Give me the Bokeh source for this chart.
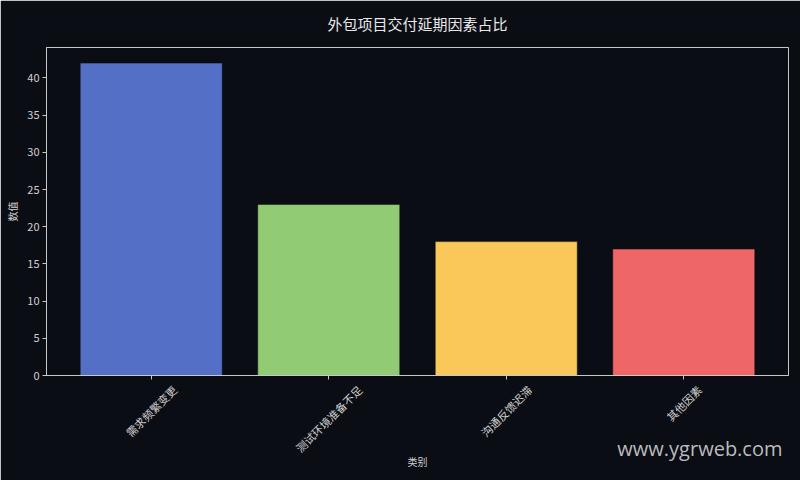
import math
from bokeh.plotting import figure
from bokeh.models import Range1d, FixedTicker, LinearAxis, Title, ColumnDataSource
from bokeh.embed import file_html
from bokeh.resources import INLINE

categories = ["需求频繁变更", "测试环境准备不足", "沟通反馈迟滞", "其他因素"]
values = [42, 23, 18, 17]
colors = ["#5470c6", "#91cc75", "#fac858", "#ee6666"]
y_ticks = [0, 5, 10, 15, 20, 25, 30, 35, 40]
title_text = "外包项目交付延期因素占比"
x_label = "类别"
y_label = "数值"
watermark = "www.ygrweb.com"

BG = "#0b0d14"
FG = "#d0d0d0"
AX = "#c8c8c8"
FONT = "Noto Sans CJK SC"
LABEL_PX = 11
FRAME_W = 742

xs = list(range(len(categories)))
src = ColumnDataSource(dict(x=xs, top=values, color=colors))

x_range = Range1d(-0.59, len(categories) - 1 + 0.59)
p = figure(width=800, height=480, output_backend="svg", toolbar_location=None,
           x_range=x_range, y_range=Range1d(0, max(values) * 1.05),
           min_border_left=46, min_border_right=12, min_border_top=46, min_border_bottom=105)
p.background_fill_color = BG
p.border_fill_color = BG
p.outline_line_color = AX
p.outline_line_width = 1
p.xgrid.visible = False
p.ygrid.visible = False

p.vbar(x="x", top="top", width=0.8, source=src, fill_color="color",
       line_color=BG, line_alpha=0.5, line_width=1)

# title
p.title.text = title_text
p.title.align = "center"
p.title.vertical_align = "top"
p.title.standoff = 24
p.title.text_font = FONT
p.title.text_font_size = "15px"
p.title.text_font_style = "normal"
p.title.text_color = "#e8e8e8"

# main x axis: tick marks only
xa = p.xaxis[0]
xa.ticker = FixedTicker(ticks=xs)
xa.axis_line_color = AX
xa.major_tick_line_color = AX
xa.major_tick_out = 4
xa.major_tick_in = 0
xa.minor_tick_line_color = None
xa.major_label_overrides = {i: "" for i in xs}
xa.major_label_standoff = 0
xa.major_label_text_font_size = "0px"

# label axis: rotated category labels centred under their ticks
px_per_unit = FRAME_W / (x_range.end - x_range.start)
label_pos = [x + (0.5 * math.cos(math.pi / 4) * LABEL_PX * (len(c) + 1) - 4) / px_per_unit
             for x, c in zip(xs, categories)]
p.extra_x_ranges = {"lab": x_range}
la = LinearAxis(x_range_name="lab", ticker=FixedTicker(ticks=label_pos),
                major_label_overrides={lp: c for lp, c in zip(label_pos, categories)},
                major_label_orientation=math.pi / 4, major_label_standoff=2,
                axis_line_color=None, major_tick_line_color=None, minor_tick_line_color=None,
                major_label_text_color=FG, major_label_text_font=FONT,
                major_label_text_font_size="%dpx" % LABEL_PX,
                axis_label=x_label, axis_label_standoff=-10,
                axis_label_text_color=FG, axis_label_text_font=FONT,
                axis_label_text_font_size="10px", axis_label_text_font_style="normal")
p.add_layout(la, "below")

# y axis
ya = p.yaxis[0]
ya.ticker = FixedTicker(ticks=y_ticks)
ya.axis_line_color = AX
ya.major_tick_line_color = AX
ya.major_tick_out = 4
ya.major_tick_in = 0
ya.minor_tick_line_color = None
ya.major_label_standoff = 3
ya.major_label_text_color = FG
ya.major_label_text_font = FONT
ya.major_label_text_font_size = "11px"
ya.axis_label = y_label
ya.axis_label_standoff = 4
ya.axis_label_text_color = FG
ya.axis_label_text_font = FONT
ya.axis_label_text_font_size = "10px"
ya.axis_label_text_font_style = "normal"

# watermark
p.add_layout(Title(text=watermark, align="right", vertical_align="top", standoff=-76,
                   offset=6, text_font="Open Sans", text_font_size="20px",
                   text_font_style="normal", text_color="#dddddd", text_alpha=0.85), "below")

open("out.html", "w").write(file_html(p, INLINE))
